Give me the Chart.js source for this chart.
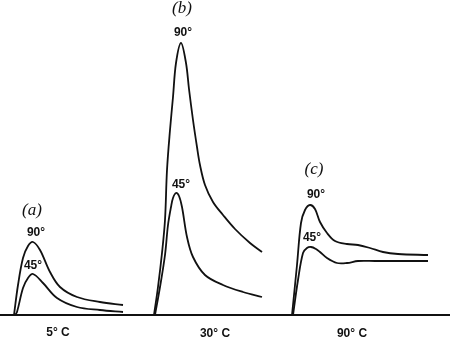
<!DOCTYPE html>
<html>
<head>
<meta charset="utf-8">
<script src="https://cdn.jsdelivr.net/npm/chart.js@4.4.1/dist/chart.umd.min.js"></script>
<style>
html,body{margin:0;padding:0;background:#fff;}
#wrap{width:450px;height:340px;}
</style>
</head>
<body>
<div id="wrap"><canvas id="c" width="450" height="340"></canvas></div>
<script>
// time (arbitrary units) and intensity above baseline (arbitrary units)
const a90 = [[14,0],[18,30],[23,57],[28,69],[33,73],[40,65],[50,43],[60,28],[77,18],[100,13],[123,10]];
const a45 = [[15,0],[17,3],[23,27],[28,37],[33,41],[43,32],[57,17],[77,8],[100,5],[123,3]];
const b90 = [[154,0],[158,28],[162,62],[165,95],[167,145],[170,185],[173,218],[176,252],[181,272],[186,252],[189,226],[193,195],[197,168],[200,150],[205,130],[213,113],[223,100],[235,86],[250,72],[262,63]];
const b45 = [[155,0],[160,28],[165,60],[168,90],[171,108],[173,117],[176,122],[179,119],[182,108],[187,78],[193,58],[205,40],[223,30],[243,23],[262,18]];
const c90 = [[292,0],[297,50],[301,92],[305,105],[310,110],[315,106],[320,93],[327,82],[335,74],[347,71],[358,70],[370,67],[383,63],[398,61],[428,60]];
const c45 = [[293,0],[298,35],[303,62],[307,67],[311,68],[316,66],[320,63],[327,57],[337,52],[347,52],[358,54],[375,54],[400,54],[428,54]];
const baseline = [[0,0],[450,0]];

const panelTags = ['(a)','(b)','(c)'];
const angleTags = ['90°','45°'];
const tempTags = ['5° C','30° C','90° C'];

const toXY = arr => arr.map(p => ({x:p[0], y:p[1]}));
const curves = [a90,a45,b90,b45,c90,c45];

const datasets = curves.map(d => ({
  data: toXY(d), borderColor:'#111', borderWidth:1.8, pointRadius:0,
  fill:false, tension:0.35
}));
datasets.push({data: toXY(baseline), borderColor:'#111', borderWidth:2, pointRadius:0, fill:false});

// label anchors (data units)
const labelSpecs = [
  {t:panelTags[0], x:32, y:104, f:"italic 17px 'Liberation Serif'"},
  {t:angleTags[0], x:36, y:82, f:"bold 12px 'Liberation Sans'"},
  {t:angleTags[1], x:33, y:49, f:"bold 12px 'Liberation Sans'"},
  {t:tempTags[0], x:58, y:-18, f:"bold 12px 'Liberation Sans'"},
  {t:panelTags[1], x:182, y:306, f:"italic 17px 'Liberation Serif'"},
  {t:angleTags[0], x:183, y:282, f:"bold 12px 'Liberation Sans'"},
  {t:angleTags[1], x:181, y:130, f:"bold 12px 'Liberation Sans'"},
  {t:tempTags[1], x:215, y:-19, f:"bold 12px 'Liberation Sans'"},
  {t:panelTags[2], x:314, y:145, f:"italic 17px 'Liberation Serif'"},
  {t:angleTags[0], x:316, y:120, f:"bold 12px 'Liberation Sans'"},
  {t:angleTags[1], x:312, y:77, f:"bold 12px 'Liberation Sans'"},
  {t:tempTags[2], x:352, y:-19, f:"bold 12px 'Liberation Sans'"}
];

const labelPlugin = {
  id:'labels',
  afterDatasetsDraw(chart){
    const ctx = chart.ctx, xs = chart.scales.x, ys = chart.scales.y;
    ctx.save();
    ctx.fillStyle = '#111';
    ctx.textAlign = 'center';
    ctx.textBaseline = 'middle';
    labelSpecs.forEach(s => {
      ctx.font = s.f;
      ctx.fillText(s.t, xs.getPixelForValue(s.x), ys.getPixelForValue(s.y));
    });
    ctx.restore();
  }
};

new Chart(document.getElementById('c'), {
  type:'line',
  data:{datasets},
  options:{
    responsive:false, animation:false, parsing:true,
    layout:{padding:0},
    plugins:{legend:{display:false}, tooltip:{enabled:false}},
    scales:{
      x:{type:'linear', min:0, max:450, display:false},
      y:{type:'linear', min:-25, max:315, display:false}
    }
  },
  plugins:[labelPlugin]
});
</script>
</body>
</html>
